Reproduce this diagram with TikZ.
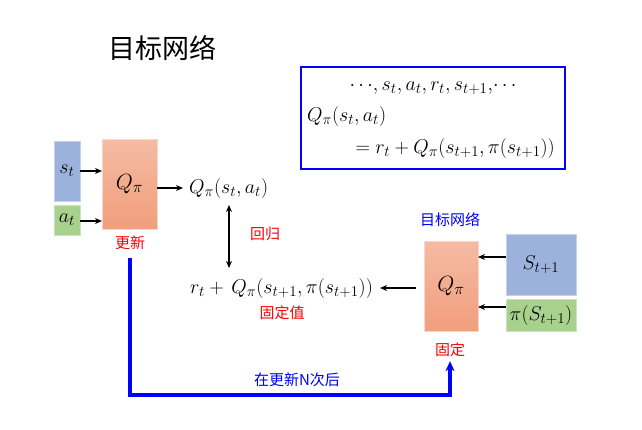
\RequirePackage{fix-cm}
\documentclass[tikz,border=0pt]{standalone}
\usepackage{fontspec}
\newfontfamily\cjk{Noto Sans CJK SC}
\usetikzlibrary{arrows.meta}
\DeclareMathSizes{20}{20}{15}{12}
\DeclareMathSizes{22}{22}{16.5}{13}
\definecolor{sblue}{RGB}{156,178,221}
\definecolor{sgreen}{RGB}{169,209,142}
\definecolor{qtop}{RGB}{245,187,163}
\definecolor{qbot}{RGB}{241,158,124}
\definecolor{lblue}{RGB}{0,0,255}
\definecolor{lred}{RGB}{255,0,0}
\begin{document}
\begin{tikzpicture}[x=1pt,y=-1pt,
  blk/.style={inner sep=0pt, outer sep=0pt, font=\fontsize{20}{24}\selectfont},
  sbox/.style={blk, fill=sblue, draw=sblue!60!white},
  gbox/.style={blk, fill=sgreen, draw=sgreen!60!white},
  qbox/.style={blk, top color=qtop, bottom color=qbot, draw=qtop!60!white, minimum width=55, minimum height=90, font=\fontsize{22}{26}\selectfont},
  mtext/.style={inner sep=0pt, font=\fontsize{20}{24}\selectfont},
  redlbl/.style={inner sep=0pt, text=lred, font=\cjk\fontsize{15}{18}\selectfont},
  arr/.style={-{Stealth[length=7pt,width=6pt]}, line width=1.5pt},
  darr/.style={{Stealth[length=7pt,width=6pt]}-{Stealth[length=7pt,width=6pt]}, line width=1.5pt},
  barr/.style={-{Stealth[length=10pt,width=9pt]}, line width=3.5pt, draw=lblue}
]
\useasboundingbox (0,0) rectangle (642,429);
% title
\node[inner sep=0pt, font=\cjk\fontsize{27}{30}\selectfont] (title) at (162,48) {目标网络};
% top-right box
\node[draw=lblue, line width=2.5pt, minimum width=264, minimum height=102, inner sep=0pt] (eqbox) at (433,118) {};
\node[mtext] (seq) at (433,88) {$\cdots\!,s_t,a_t,r_t,s_{t+1},\!\cdots$};
\node[mtext, anchor=west] (eq1) at (307,116) {$Q_\pi(s_t,a_t)$};
\node[mtext, anchor=east] (eq2) at (555,148) {$=r_t+Q_\pi\bigl(s_{t+1},\pi(s_{t+1})\bigr)$};
% left network
\node[sbox, minimum width=26, minimum height=60] (st) at (67,171) {$s_t$};
\node[gbox, minimum width=26, minimum height=30] (at) at (67,220) {$a_t$};
\node[qbox] (qL) at (129.5,184) {$Q_\pi$};
\node[redlbl] (upd) at (130,243) {更新};
\draw[arr] (st.east) -- (st.east -| qL.west);
\draw[arr] ([yshift=-1pt]at.east) -- ([yshift=-1pt]at.east -| qL.west);
\node[mtext, anchor=west] (qsa) at (189,188) {$Q_\pi(s_t,a_t)$};
\draw[arr] (qL.east |- qsa.west) -- ([xshift=-6pt]qsa.west);
% target
\node[mtext, anchor=west] (tgt) at (190,288) {$r_t+\,Q_\pi\bigl(s_{t+1},\pi(s_{t+1})\bigr)$};
\node[redlbl] (fixv) at (282,313) {固定值};
\coordinate (d1) at (229,205);
\coordinate (d2) at (229,268);
\draw[darr] (d1) -- (d2);
\node[redlbl] (reg) at (265,234) {回归};
% right network
\node[qbox, minimum width=54] (qR) at (451,286) {$Q_\pi$};
\node[inner sep=0pt, text=lblue, font=\cjk\fontsize{15}{18}\selectfont] (tnet) at (450,220) {目标网络};
\node[redlbl] (fix) at (450,350) {固定};
\node[sbox, minimum width=70, minimum height=61] (s1) at (541,264.5) {$S_{t+1}$};
\node[gbox, minimum width=70, minimum height=32] (ps1) at (541,315) {$\pi(S_{t+1})$};
\draw[arr] (s1.west |- 0,257) -- (qR.east |- 0,257);
\draw[arr] (ps1.west |- 0,307) -- (qR.east |- 0,307);
\draw[arr] ([xshift=-8pt]qR.west |- tgt.east) -- ([xshift=7pt]tgt.east);
% blue update path
\coordinate (b0) at (130,258);
\coordinate (b1) at (130,395);
\draw[barr, line join=miter] (b0) -- (b1) -| ([yshift=-4pt]fix.south);
\node[inner sep=0pt, text=lblue, font=\cjk\fontsize{15}{18}\selectfont] (after) at (297,380) {在更新N次后};
\end{tikzpicture}
\end{document}
